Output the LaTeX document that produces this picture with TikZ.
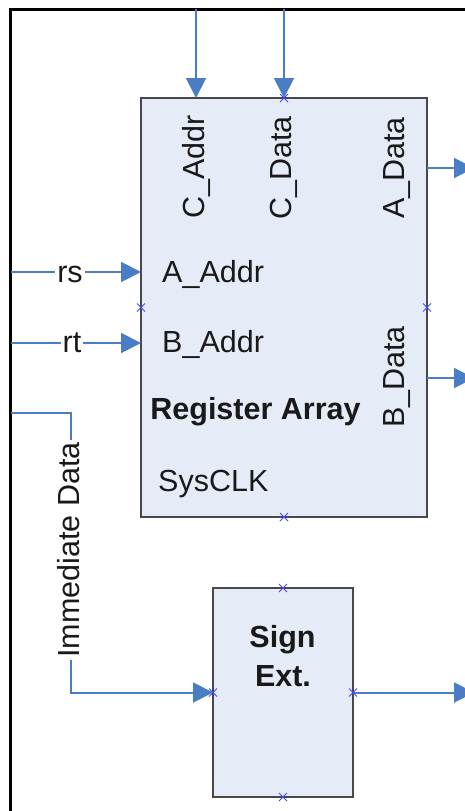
\documentclass[tikz,border=0pt]{standalone}
\usepackage{fontspec}
\setmainfont{Liberation Sans}
\usetikzlibrary{arrows.meta,calc}
\definecolor{wireblue}{RGB}{74,126,196}
\definecolor{boxfill}{RGB}{230,236,247}
\definecolor{boxline}{RGB}{72,72,72}
\definecolor{markblue}{RGB}{70,70,255}
\definecolor{ink}{RGB}{25,25,25}

\begin{document}
\begin{tikzpicture}[x=1pt, y=-1pt,
  wire/.style={draw=wireblue, line width=2pt, -{Triangle[length=20pt,width=20pt]}},
  block/.style={draw=boxline, fill=boxfill, line width=2pt, rectangle, inner sep=0pt, outer sep=0pt},
  lbl/.style={font=\fontsize{30.5}{36}\selectfont, text=ink, inner sep=0pt},
  boldlbl/.style={lbl, font=\fontsize{30.5}{36}\selectfont\bfseries},
  tag/.style={lbl, fill=white, inner xsep=2pt},
  xmark/.pic={\draw[markblue, line width=1pt] (-4,-4) -- (4,4) (-4,4) -- (4,-4);}
]
\useasboundingbox (0,0) rectangle (465,811);
\clip (0,0) rectangle (465,811);
\fill[white] (0,0) rectangle (465,811);

% outer frame, running off the page to the right and bottom
\draw[black, line width=3pt] (10,830) -- (10,9) -- (480,9);

% register array block and its port labels
\node[block, minimum width=286pt, minimum height=419pt] (reg) at (284,307.5) {};
\node[lbl, anchor=base west] (aaddr) at (162,282) {A\_Addr};
\node[lbl, anchor=base west] (baddr) at (162,352) {B\_Addr};
\node[boldlbl, anchor=base] (title) at (255.5,419) {Register Array};
\node[lbl, anchor=base west] (clk) at (158,491) {SysCLK};
\node[lbl, rotate=90, anchor=base] (caddr) at (204,167) {C\_Addr};
\node[lbl, rotate=90, anchor=base] (cdata) at (291,168) {C\_Data};
\node[lbl, rotate=90, anchor=base] (adata) at (404,168) {A\_Data};
\node[lbl, rotate=90, anchor=base] (bdata) at (404,377) {B\_Data};

% sign extension block
\node[block, minimum width=140pt, minimum height=209pt] (sext) at (283,692.5) {};
\node[boldlbl, anchor=base] (sign) at (282.5,647) {Sign};
\node[boldlbl, anchor=base] (ext) at (283,686) {Ext.};

% inputs from above
\coordinate (caIn) at (196,9);
\coordinate (cdIn) at (284,9);
\draw[wire] (caIn) -- (caIn |- reg.north);
\draw[wire] (cdIn) -- (cdIn |- reg.north);

% outputs to the right
\coordinate (adOut) at (474,168);
\coordinate (bdOut) at (474,378);
\coordinate (seOut) at (474,692.5);
\draw[wire] (adOut -| reg.east) -- (adOut);
\draw[wire] (bdOut -| reg.east) -- (bdOut);
\draw[wire] (sext.east) -- (seOut);

% register address inputs
\coordinate (rsIn) at (11,272);
\coordinate (rtIn) at (11,343);
\draw[wire] (rsIn) -- (rsIn -| reg.west);
\draw[wire] (rtIn) -- (rtIn -| reg.west);
\node[tag, anchor=base] (rs) at (70,282) {rs};
\node[tag, anchor=base] (rt) at (72,352) {rt};

% immediate data path into the sign extender
\coordinate (imIn) at (11,413);
\coordinate (imBend) at (71,413);
\draw[wire] (imIn) -- (imBend) |- (sext.west);
\node[tag, rotate=90, anchor=base] (imm) at (79,550) {Immediate Data};

% connection point marks
\foreach \p in {reg.north, reg.south, reg.west, reg.east,
                sext.north, sext.south, sext.west, sext.east}
  \pic at (\p) {xmark};
\end{tikzpicture}
\end{document}
